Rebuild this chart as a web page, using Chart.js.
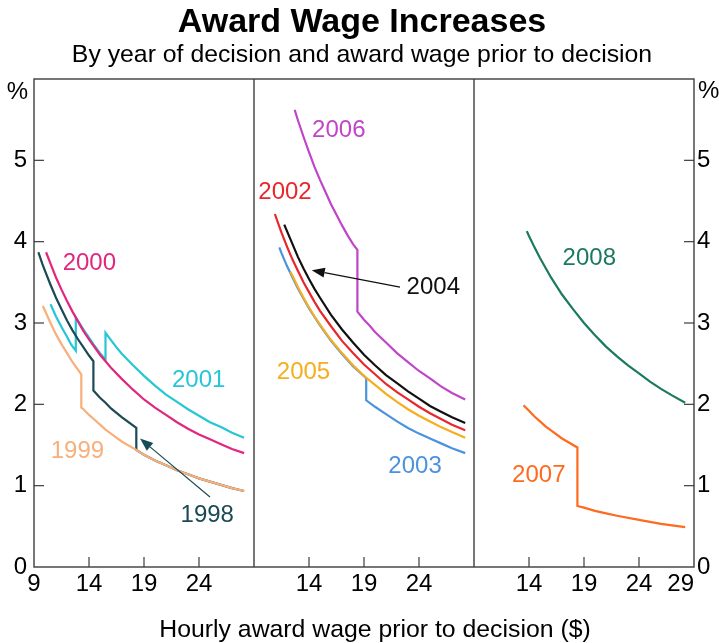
<!DOCTYPE html>
<html>
<head>
<meta charset="utf-8">
<title>Award Wage Increases</title>
<script src="https://cdn.jsdelivr.net/npm/chart.js@4.4.1/dist/chart.umd.min.js"></script>
<style>
  body { margin: 0; background: #fff; }
  canvas { display: block; }
</style>
</head>
<body>
<canvas id="awardChart" width="719" height="643"></canvas>
<script>
// Hourly award wage prior to decision ($) and the increase awarded (%), per decision year

// panel 1
const wage1998 = [9.4, 9.75, 10, 10.5, 11, 11.5, 12, 12.5, 13, 13.5, 14, 14.4, 14.4, 15, 15.5, 16, 17, 18.3, 18.3, 19, 20, 21, 22, 23, 24, 25, 26, 27, 28.1];
const rise1998 = [3.87, 3.73, 3.64, 3.47, 3.31, 3.17, 3.03, 2.91, 2.80, 2.70, 2.60, 2.53, 2.17, 2.08, 2.02, 1.95, 1.84, 1.71, 1.44, 1.38, 1.31, 1.25, 1.19, 1.14, 1.09, 1.05, 1.01, 0.97, 0.935];
const wage1999 = [9.8, 10, 10.5, 11, 11.5, 12, 12.5, 13.3, 13.3, 13.5, 14, 14.5, 15, 15.5, 16, 17, 18.3, 19, 20, 21, 22, 23, 24, 25, 26, 27, 28.1];
const rise1999 = [3.21, 3.15, 3.00, 2.86, 2.74, 2.63, 2.52, 2.37, 1.96, 1.94, 1.87, 1.81, 1.75, 1.69, 1.64, 1.54, 1.44, 1.38, 1.31, 1.25, 1.19, 1.14, 1.09, 1.05, 1.01, 0.97, 0.935];
const wage2000 = [10.1, 10.5, 11, 11.5, 12, 12.5, 13, 13.5, 14, 15, 16, 17, 18, 19, 20, 21, 22, 23, 24, 25, 26, 27, 28.1];
const rise2000 = [3.87, 3.73, 3.56, 3.41, 3.27, 3.14, 3.02, 2.90, 2.80, 2.61, 2.45, 2.31, 2.18, 2.06, 1.96, 1.87, 1.78, 1.70, 1.63, 1.57, 1.51, 1.45, 1.40];
const wage2001 = [10.5, 11, 11.5, 12, 12.4, 12.8, 12.8, 13.5, 14, 14.5, 15, 15.5, 15.5, 16, 16.5, 17, 18, 19, 20, 21, 22, 23, 24, 25, 26, 27, 28.1];
const rise2001 = [3.23, 3.08, 2.95, 2.83, 2.73, 2.66, 3.07, 2.92, 2.82, 2.72, 2.63, 2.55, 2.88, 2.79, 2.70, 2.62, 2.48, 2.35, 2.23, 2.12, 2.03, 1.94, 1.86, 1.78, 1.72, 1.65, 1.59];

// panel 2
const wage2002 = [10.9, 11, 11.5, 12, 12.5, 13, 13.5, 14, 14.5, 15, 16, 17, 18, 19, 20, 21, 22, 23, 24, 25, 26, 27, 28.2];
const rise2002 = [4.34, 4.30, 4.11, 3.94, 3.78, 3.64, 3.50, 3.38, 3.26, 3.15, 2.96, 2.78, 2.63, 2.49, 2.37, 2.25, 2.15, 2.06, 1.97, 1.89, 1.82, 1.75, 1.68];
const wage2003 = [11.3, 11.5, 12, 12.5, 13, 14, 15, 16, 17, 18, 19.2, 19.2, 20, 21, 22, 23, 24, 25, 26, 27, 28.2];
const rise2003 = [3.93, 3.86, 3.70, 3.56, 3.42, 3.18, 2.97, 2.78, 2.62, 2.47, 2.32, 2.05, 1.97, 1.88, 1.79, 1.71, 1.64, 1.58, 1.52, 1.46, 1.40];
const wage2004 = [11.75, 12, 12.5, 13, 13.5, 14, 14.5, 15, 16, 17, 18, 19, 20, 21, 22, 23, 24, 25, 26, 27, 28.2];
const rise2004 = [4.21, 4.13, 3.97, 3.81, 3.67, 3.54, 3.42, 3.31, 3.10, 2.92, 2.76, 2.61, 2.48, 2.36, 2.26, 2.16, 2.07, 1.98, 1.91, 1.84, 1.77];
const wage2005 = [12.3, 12.5, 13, 13.5, 14, 14.5, 15, 16, 17, 18, 19, 20, 21, 22, 23, 24, 25, 26, 27, 28.2];
const rise2005 = [3.63, 3.58, 3.44, 3.31, 3.19, 3.08, 2.98, 2.79, 2.63, 2.48, 2.35, 2.24, 2.13, 2.03, 1.94, 1.86, 1.79, 1.72, 1.66, 1.59];
const wage2006 = [12.7, 13, 13.5, 14, 14.5, 15, 15.5, 16, 16.5, 17, 17.5, 18, 18.4, 18.4, 19, 19.5, 20, 21, 22, 23, 24, 25, 26, 27, 28.2];
const rise2006 = [5.62, 5.49, 5.29, 5.10, 4.92, 4.76, 4.61, 4.46, 4.33, 4.20, 4.08, 3.97, 3.90, 3.14, 3.04, 2.97, 2.89, 2.76, 2.63, 2.52, 2.41, 2.32, 2.22, 2.14, 2.06];

// panel 3
const wage2007 = [13.5, 14, 14.5, 15, 15.5, 16, 17, 18.4, 18.4, 19, 20, 21, 22, 24, 26, 28.2];
const rise2007 = [1.99, 1.92, 1.85, 1.79, 1.73, 1.68, 1.58, 1.47, 0.75, 0.73, 0.69, 0.66, 0.63, 0.58, 0.53, 0.49];
const wage2008 = [13.8, 14, 14.5, 15, 15.5, 16, 17, 18, 19, 20, 21, 22, 23, 24, 25, 26, 27, 28.2];
const rise2008 = [4.13, 4.07, 3.93, 3.80, 3.68, 3.56, 3.35, 3.17, 3.00, 2.85, 2.71, 2.59, 2.48, 2.38, 2.28, 2.19, 2.11, 2.02];

// tick labels
const xTicksPanel1 = [9, 14, 19, 24];
const xTicksPanel2 = [14, 19, 24];
const xTicksPanel3 = [9, 14, 19, 24, 29];   // 9 kept blank, only there so 29 aligns inward
const xLabelsPanel3 = [14, 19, 24, 29];
const yTicks = [0, 1, 2, 3, 4, 5];

const FONT = '"Liberation Sans", Arial, sans-serif';

// first in list is drawn on top
const series = [
    { year: '1999', axis: 'x1', wages: wage1999, rises: rise1999, color: '#f7b07c' },
    { year: '1998', axis: 'x1', wages: wage1998, rises: rise1998, color: '#1b4a57' },
    { year: '2000', axis: 'x1', wages: wage2000, rises: rise2000, color: '#e2267f' },
    { year: '2001', axis: 'x1', wages: wage2001, rises: rise2001, color: '#25c6d6' },
    { year: '2006', axis: 'x2', wages: wage2006, rises: rise2006, color: '#c045c8' },
    { year: '2004', axis: 'x2', wages: wage2004, rises: rise2004, color: '#111111' },
    { year: '2002', axis: 'x2', wages: wage2002, rises: rise2002, color: '#e8272b' },
    { year: '2005', axis: 'x2', wages: wage2005, rises: rise2005, color: '#f6ae1c' },
    { year: '2003', axis: 'x2', wages: wage2003, rises: rise2003, color: '#4a93de' },
    { year: '2008', axis: 'x3', wages: wage2008, rises: rise2008, color: '#1c7961' },
    { year: '2007', axis: 'x3', wages: wage2007, rises: rise2007, color: '#ff6a1e' }
];

// where the year names sit (data units of each panel)
const yearNotes = [
    { text: '2000', axis: 'x1', x: 14.03, y: 3.73 },
    { text: '2001', axis: 'x1', x: 23.97, y: 2.30 },
    { text: '1999', axis: 'x1', x: 12.95, y: 1.42 },
    { text: '1998', axis: 'x1', x: 24.75, y: 0.635 },
    { text: '2006', axis: 'x2', x: 16.71, y: 5.37 },
    { text: '2002', axis: 'x2', x: 11.82, y: 4.61 },
    { text: '2004', axis: 'x2', x: 25.3, y: 3.44 },
    { text: '2005', axis: 'x2', x: 13.5, y: 2.39 },
    { text: '2003', axis: 'x2', x: 23.64, y: 1.24 },
    { text: '2008', axis: 'x3', x: 19.48, y: 3.79 },
    { text: '2007', axis: 'x3', x: 14.89, y: 1.13 }
];
const arrows = [
    { axis: 'x1', from: [25.0, 0.86], to: [18.64, 1.58], color: '#1b4a57' },
    { axis: 'x2', from: [22.27, 3.44], to: [14.25, 3.65], color: '#111111' }
];

const colorOf = year => series.find(s => s.year === year).color;

const datasets = series.map(s => ({
    label: s.year,
    data: s.wages.map((w, i) => ({ x: w, y: s.rises[i] })),
    xAxisID: s.axis,
    yAxisID: 'y',
    borderColor: s.color,
    borderWidth: 2.2,
    pointRadius: 0,
    tension: 0,
    fill: false
}));

function panelAxis(ticks, shown, inner) {
    return {
        type: 'linear',
        position: 'bottom',
        stack: 'panels',
        stackWeight: 1,
        min: 9,
        max: 29,
        grid: { display: false, drawTicks: false },
        border: { display: false },
        afterBuildTicks: scale => { scale.ticks = ticks.map(v => ({ value: v })); },
        afterFit: scale => { scale.height = 76; },
        ticks: {
            autoSkip: false,
            maxRotation: 0,
            padding: 3,
            align: inner ? 'inner' : 'center',
            color: '#000',
            font: { family: FONT, size: 24 },
            callback: v => shown.includes(v) ? String(v) : ''
        }
    };
}

function valueAxis(position, width, pad) {
    return {
        type: 'linear',
        position: position,
        min: 0,
        max: 6,
        grid: { display: false, drawTicks: false },
        border: { display: false },
        afterBuildTicks: scale => { scale.ticks = yTicks.map(v => ({ value: v })); },
        afterFit: scale => { scale.width = width; },
        ticks: {
            padding: pad,
            color: '#000',
            font: { family: FONT, size: 24 }
        }
    };
}

function segment(ctx, x1, y1, x2, y2) {
    ctx.beginPath();
    ctx.moveTo(x1, y1);
    ctx.lineTo(x2, y2);
    ctx.stroke();
}

const framePlugin = {
    id: 'frameAndNotes',
    afterDatasetsDraw(chart) {
        const { ctx, chartArea: a, scales } = chart;
        const yS = scales.y;
        ctx.save();

        // panel frame and dividers
        ctx.strokeStyle = '#3d3d3d';
        ctx.lineWidth = 1.4;
        ctx.strokeRect(a.left, a.top, a.right - a.left, a.bottom - a.top);
        ['x2', 'x3'].forEach(id => segment(ctx, scales[id].left, a.top, scales[id].left, a.bottom));

        // inward tick marks
        ctx.lineWidth = 1.2;
        ['x1', 'x2', 'x3'].forEach(id => {
            [14, 19, 24].forEach(v => {
                const px = scales[id].getPixelForValue(v);
                segment(ctx, px, a.bottom, px, a.bottom - 10);
            });
        });
        yTicks.slice(1).forEach(v => {
            const py = yS.getPixelForValue(v);
            segment(ctx, a.left, py, a.left + 10, py);
            segment(ctx, a.right, py, a.right - 10, py);
        });

        // year names
        ctx.font = '24px ' + FONT;
        ctx.textAlign = 'center';
        ctx.textBaseline = 'middle';
        yearNotes.forEach(n => {
            ctx.fillStyle = colorOf(n.text);
            ctx.fillText(n.text, scales[n.axis].getPixelForValue(n.x), yS.getPixelForValue(n.y));
        });

        // arrows
        arrows.forEach(ar => {
            const xS = scales[ar.axis];
            const x1 = xS.getPixelForValue(ar.from[0]), y1 = yS.getPixelForValue(ar.from[1]);
            const x2 = xS.getPixelForValue(ar.to[0]), y2 = yS.getPixelForValue(ar.to[1]);
            const ang = Math.atan2(y2 - y1, x2 - x1);
            const len = 13, half = 5;
            const bx = x2 - len * Math.cos(ang), by = y2 - len * Math.sin(ang);
            ctx.strokeStyle = ar.color;
            ctx.fillStyle = ar.color;
            ctx.lineWidth = 1.2;
            segment(ctx, x1, y1, bx, by);
            ctx.beginPath();
            ctx.moveTo(x2, y2);
            ctx.lineTo(bx + half * Math.sin(ang), by - half * Math.cos(ang));
            ctx.lineTo(bx - half * Math.sin(ang), by + half * Math.cos(ang));
            ctx.closePath();
            ctx.fill();
        });

        // unit markers
        ctx.fillStyle = '#000';
        ctx.textAlign = 'right';
        ctx.fillText('%', 28, 92);
        ctx.textAlign = 'left';
        ctx.fillText('%', 698, 91);

        ctx.restore();
    },
    afterDraw(chart) {
        const ctx = chart.ctx;
        ctx.save();
        ctx.fillStyle = '#000';
        ctx.textAlign = 'center';
        ctx.textBaseline = 'alphabetic';
        ctx.font = 'bold 34px ' + FONT;
        ctx.fillText('Award Wage Increases', 362, 32);
        ctx.font = '24.8px ' + FONT;
        ctx.fillText('By year of decision and award wage prior to decision', 362, 62);
        ctx.fillText('Hourly award wage prior to decision ($)', 375, 637);
        ctx.restore();
    }
};

new Chart(document.getElementById('awardChart'), {
    type: 'line',
    data: { datasets: datasets },
    options: {
        responsive: false,
        animation: false,
        layout: { padding: { top: 79, left: 0, right: 0, bottom: 0 } },
        plugins: {
            legend: { display: false },
            tooltip: { enabled: false }
        },
        scales: {
            x1: panelAxis(xTicksPanel1, xTicksPanel1, false),
            x2: panelAxis(xTicksPanel2, xTicksPanel2, false),
            x3: panelAxis(xTicksPanel3, xLabelsPanel3, true),
            y: valueAxis('left', 34, 7),
            y2: valueAxis('right', 25, 3)
        }
    },
    plugins: [framePlugin]
});
</script>
</body>
</html>
